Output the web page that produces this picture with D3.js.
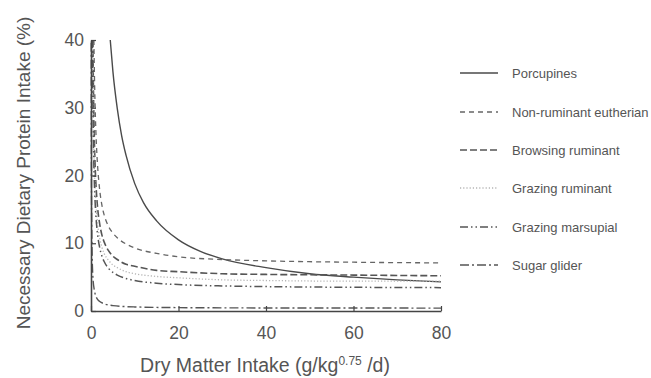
<!DOCTYPE html>
<html>
<head>
<meta charset="utf-8">
<script src="https://cdn.jsdelivr.net/npm/d3@7"></script>
<style>
  html, body { margin: 0; padding: 0; background: #fff; }
  svg { display: block; font-family: "Liberation Sans", Arial, sans-serif; }
</style>
</head>
<body>
<svg id="chart" width="651" height="378"></svg>
<script>
// ---- data ----
const seriesNames = ["Porcupines", "Non-ruminant eutherian", "Browsing ruminant",
                     "Grazing ruminant", "Grazing marsupial", "Sugar glider"];

const porcupinesX = [4.4, 5, 6, 7, 8, 10, 12, 15, 20, 25, 30, 40, 50, 60, 70, 80];
const porcupinesY = [40, 35.4, 29.9, 25.9, 23.0, 18.8, 16.0, 13.3, 10.5, 8.8, 7.7, 6.4, 5.5, 5.0, 4.6, 4.3];

const nonRuminantX = [0.66, 0.8, 1, 1.25, 1.5, 2, 2.5, 3, 4, 5, 6, 8, 10, 15, 20, 30, 40, 60, 80];
const nonRuminantY = [40, 34.3, 28.8, 24.4, 21.5, 17.8, 15.6, 14.2, 12.5, 11.5, 10.8, 9.9, 9.3, 8.5, 8.0, 7.6, 7.4, 7.2, 7.1];

const browsingX = [0.44, 0.5, 0.6, 0.8, 1, 1.25, 1.5, 2, 2.5, 3, 4, 5, 6, 8, 10, 15, 20, 30, 40, 60, 80];
const browsingY = [40, 36, 30.8, 24.4, 20.5, 17.4, 15.3, 12.8, 11.2, 10.2, 8.9, 8.1, 7.6, 6.9, 6.6, 6.0, 5.8, 5.5, 5.4, 5.3, 5.2];

const grazingRumX = [0.36, 0.4, 0.5, 0.6, 0.8, 1, 1.25, 1.5, 2, 2.5, 3, 4, 5, 6, 8, 10, 15, 20, 30, 40, 60, 80];
const grazingRumY = [40, 36.7, 30.2, 25.9, 20.5, 17.2, 14.6, 12.9, 10.7, 9.4, 8.5, 7.5, 6.8, 6.4, 5.8, 5.5, 5.1, 4.9, 4.6, 4.5, 4.4, 4.4];

const marsupialX = [0.33, 0.4, 0.5, 0.6, 0.8, 1, 1.25, 1.5, 2, 2.5, 3, 4, 5, 6, 8, 10, 15, 20, 30, 40, 60, 80];
const marsupialY = [40, 33.3, 27.3, 23.3, 18.3, 15.3, 12.9, 11.3, 9.3, 8.1, 7.3, 6.3, 5.7, 5.3, 4.8, 4.5, 4.1, 3.9, 3.7, 3.6, 3.5, 3.45];

const gliderX = [0.051, 0.07, 0.1, 0.15, 0.2, 0.3, 0.4, 0.5, 0.75, 1, 1.5, 2, 3, 5, 10, 20, 40, 80];
const gliderY = [39.6, 29.0, 20.4, 13.7, 10.4, 7.1, 5.4, 4.4, 3.1, 2.4, 1.7, 1.4, 1.07, 0.8, 0.6, 0.5, 0.45, 0.43];

const xTicks = [0, 20, 40, 60, 80];
const yTicks = [0, 10, 20, 30, 40];

// ---- build ----
const seriesX = [porcupinesX, nonRuminantX, browsingX, grazingRumX, marsupialX, gliderX];
const seriesY = [porcupinesY, nonRuminantY, browsingY, grazingRumY, marsupialY, gliderY];
const styles = [
  { stroke: "#4a4a4a", width: 1.4, dash: null },
  { stroke: "#666", width: 1.3, dash: "5,4" },
  { stroke: "#555", width: 1.6, dash: "7,3" },
  { stroke: "#b5b5b5", width: 1.3, dash: "1.2,2" },
  { stroke: "#555", width: 1.5, dash: "8,3,1.5,3,1.5,3" },
  { stroke: "#555", width: 1.4, dash: "9,3,2,3" }
];

const svg = d3.select("#chart");
const x = d3.scaleLinear().domain([0, 80]).range([91, 441]);
const y = d3.scaleLinear().domain([0, 40]).range([311, 40]);

const textColor = "#555";

// lines
const line = d3.line().x(d => x(d[0])).y(d => y(d[1])).curve(d3.curveMonotoneX);
seriesNames.forEach((name, i) => {
  const pts = seriesX[i].map((v, j) => [v, seriesY[i][j]]);
  svg.append("path")
    .datum(pts)
    .attr("d", line)
    .attr("fill", "none")
    .attr("stroke", styles[i].stroke)
    .attr("stroke-width", styles[i].width)
    .attr("stroke-dasharray", styles[i].dash);
});

// axes
const xAxis = svg.append("g").attr("transform", `translate(0,${y(0)})`)
  .call(d3.axisBottom(x).tickValues(xTicks).tickSizeInner(-5).tickSizeOuter(0).tickPadding(16));
const yAxis = svg.append("g").attr("transform", `translate(${x(0)},0)`)
  .call(d3.axisLeft(y).tickValues(yTicks).tickSizeInner(-5).tickSizeOuter(0).tickPadding(7));
[xAxis, yAxis].forEach(g => {
  g.select(".domain").attr("stroke", "#444").attr("stroke-width", 1.6);
  g.selectAll(".tick line").attr("stroke", "#444").attr("stroke-width", 1.2);
  g.selectAll(".tick text").attr("fill", textColor).attr("font-size", 17.5)
    .attr("font-family", "Liberation Sans, Arial, sans-serif");
});

// axis titles
svg.append("text")
  .attr("transform", "translate(30,173) rotate(-90)")
  .attr("text-anchor", "middle")
  .attr("fill", textColor)
  .attr("font-size", 19)
  .text("Necessary Dietary Protein Intake (%)");

const xt = svg.append("text")
  .attr("x", 265).attr("y", 372)
  .attr("text-anchor", "middle")
  .attr("fill", textColor)
  .attr("font-size", 19.5);
xt.append("tspan").text("Dry Matter Intake (g/kg");
xt.append("tspan").attr("font-size", 12).attr("dy", -7).text("0.75");
xt.append("tspan").attr("dy", 7).text(" /d)");

// legend
const legendY = [73, 112, 150, 188, 227, 265];
seriesNames.forEach((name, i) => {
  const g = svg.append("g").attr("transform", `translate(0,${legendY[i]})`);
  g.append("line")
    .attr("x1", 460).attr("x2", 498).attr("y1", 0).attr("y2", 0)
    .attr("stroke", styles[i].stroke)
    .attr("stroke-width", styles[i].width)
    .attr("stroke-dasharray", styles[i].dash);
  g.append("text")
    .attr("x", 512).attr("y", 0).attr("dy", "0.35em")
    .attr("fill", textColor)
    .attr("font-size", 13)
    .text(name);
});
</script>
</body>
</html>
